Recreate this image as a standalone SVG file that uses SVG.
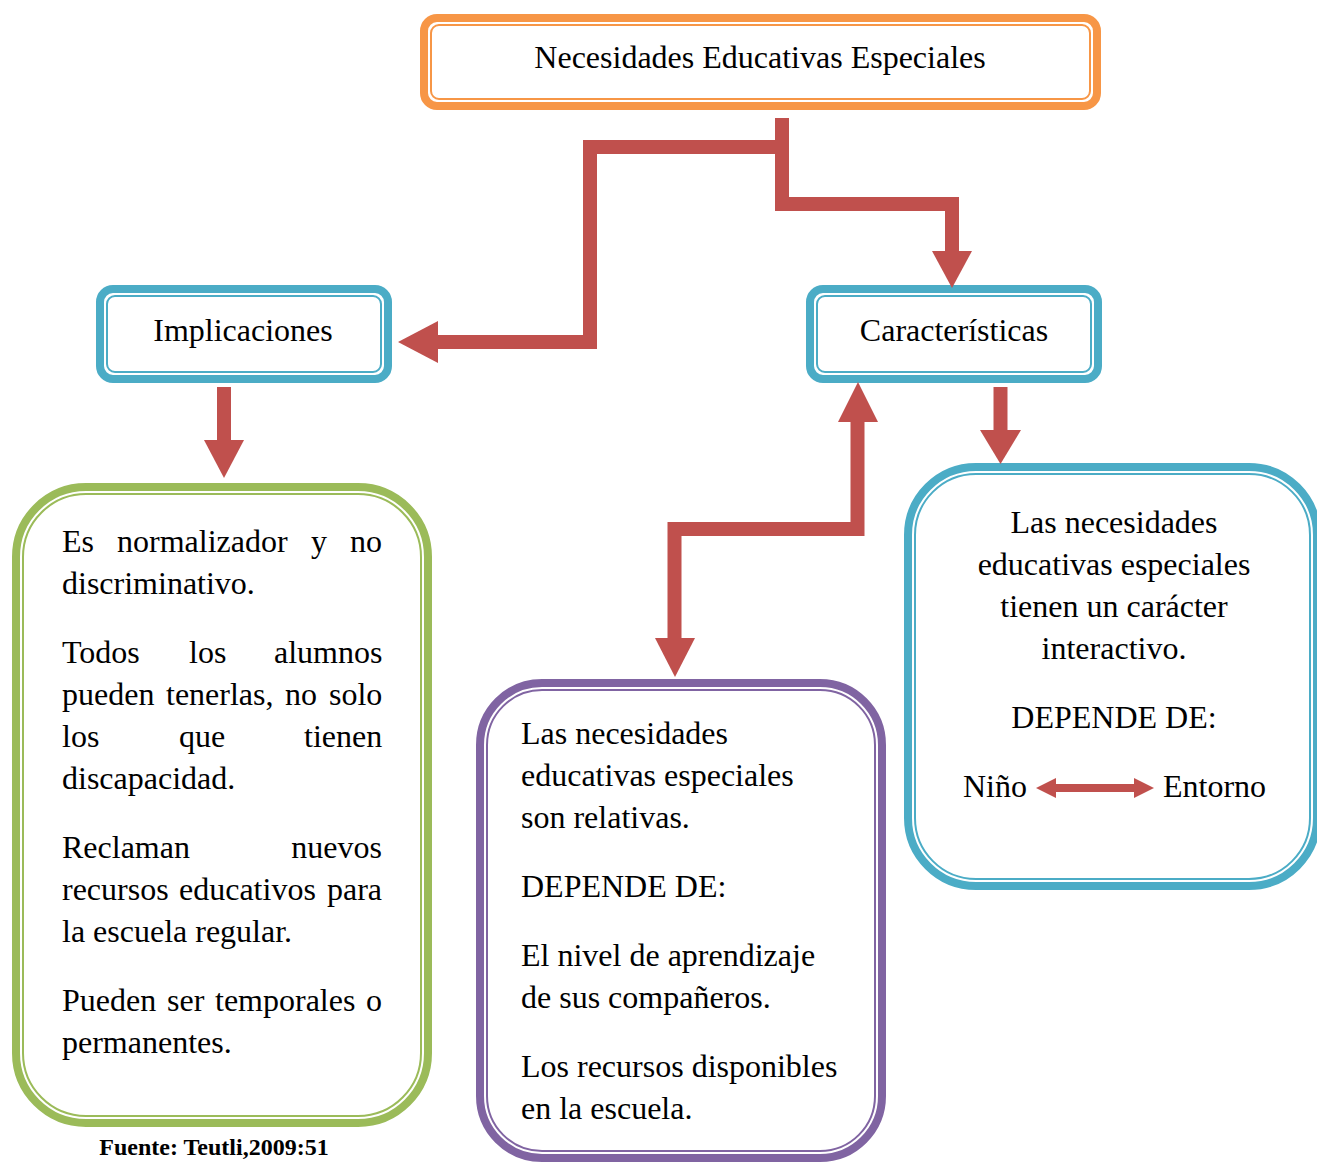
<svg xmlns="http://www.w3.org/2000/svg" width="1317" height="1162" viewBox="0 0 1317 1162">
<style>
.t{font-family:"Liberation Serif","Times New Roman",serif;font-size:32px;fill:#000}
.c{text-anchor:middle}
.e{text-anchor:end}
.f{font-family:"Liberation Serif","Times New Roman",serif;font-size:24px;font-weight:bold;fill:#000;text-anchor:middle}
.bo{fill:#fff;stroke-width:8}
.bi{fill:none;stroke-width:2}
.or{stroke:#F79646}
.bl{stroke:#4BACC6}
.gr{stroke:#9BBB59}
.pu{stroke:#8064A2}
.ln{fill:none;stroke:#C0504D;stroke-width:14;stroke-linejoin:miter}
.hd{fill:#C0504D}
</style>
<rect width="1317" height="1162" fill="#fff"/>

<g id="node-nee">
  <rect class="bo or" x="424" y="18" width="673" height="88" rx="13"/>
  <rect class="bi or" x="431" y="25" width="659" height="74" rx="8"/>
  <text class="t c" x="760" y="68">Necesidades Educativas Especiales</text>
</g>

<g id="node-implicaciones">
  <rect class="bo bl" x="100" y="289" width="288" height="90" rx="13"/>
  <rect class="bi bl" x="107" y="296" width="274" height="76" rx="8"/>
  <text class="t c" x="243" y="341">Implicaciones</text>
</g>

<g id="node-caracteristicas">
  <rect class="bo bl" x="810" y="289" width="288" height="90" rx="13"/>
  <rect class="bi bl" x="817" y="296" width="274" height="76" rx="8"/>
  <text class="t c" x="954" y="341">Características</text>
</g>

<g id="node-implicaciones-detalle">
  <rect class="bo gr" x="16" y="487" width="412" height="636" rx="70"/>
  <rect class="bi gr" x="23" y="494" width="398" height="622" rx="63"/>
  <text class="t" y="552"><tspan x="62">Es</tspan><tspan x="117">normalizador</tspan><tspan x="311">y</tspan><tspan x="350">no</tspan></text>
  <text class="t" x="62" y="594">discriminativo.</text>
  <text class="t" y="663"><tspan x="62">Todos</tspan><tspan x="189">los</tspan><tspan x="274">alumnos</tspan></text>
  <text class="t" y="705"><tspan x="62">pueden</tspan><tspan x="166">tenerlas,</tspan><tspan x="285">no</tspan><tspan x="329">solo</tspan></text>
  <text class="t" y="747"><tspan x="62">los</tspan><tspan x="179">que</tspan><tspan x="304">tienen</tspan></text>
  <text class="t" x="62" y="789">discapacidad.</text>
  <text class="t" y="858"><tspan x="62">Reclaman</tspan></text>
  <text class="t e" x="382" y="858">nuevos</text>
  <text class="t" y="900"><tspan x="62">recursos</tspan><tspan x="179">educativos</tspan><tspan x="327">para</tspan></text>
  <text class="t" x="62" y="942">la escuela regular.</text>
  <text class="t" y="1011"><tspan x="62">Pueden</tspan><tspan x="167">ser</tspan><tspan x="215">temporales</tspan><tspan x="366">o</tspan></text>
  <text class="t" x="62" y="1053">permanentes.</text>
</g>

<g id="node-relativas">
  <rect class="bo pu" x="480" y="683" width="402" height="475" rx="62"/>
  <rect class="bi pu" x="487" y="690" width="388" height="461" rx="55"/>
  <text class="t" x="521" y="744">Las necesidades</text>
  <text class="t" x="521" y="786">educativas especiales</text>
  <text class="t" x="521" y="828">son relativas.</text>
  <text class="t" x="521" y="897">DEPENDE DE:</text>
  <text class="t" x="521" y="966">El nivel de aprendizaje</text>
  <text class="t" x="521" y="1008">de sus compañeros.</text>
  <text class="t" x="521" y="1077">Los recursos disponibles</text>
  <text class="t" x="521" y="1119">en la escuela.</text>
</g>

<g id="node-interactivo">
  <rect class="bo bl" x="908" y="467" width="409" height="419" rx="68"/>
  <rect class="bi bl" x="915" y="474" width="395" height="405" rx="61"/>
  <text class="t c" x="1114" y="533">Las necesidades</text>
  <text class="t c" x="1114" y="575">educativas especiales</text>
  <text class="t c" x="1114" y="617">tienen un carácter</text>
  <text class="t c" x="1114" y="659">interactivo.</text>
  <text class="t c" x="1114" y="728">DEPENDE DE:</text>
  <text class="t" x="963" y="797">Niño</text>
  <text class="t" x="1163" y="797">Entorno</text>
</g>

<g id="fuente">
  <text class="f" x="214" y="1155">Fuente: Teutli,2009:51</text>
</g>

<g id="connectors">
  <path class="ln" d="M782,118 V147 H590 V342 H437"/>
  <polygon class="hd" points="438,321 398,342 438,363"/>
  <path class="ln" d="M782,118 V204 H952 V252"/>
  <polygon class="hd" points="932,251 972,251 952,288"/>
  <path class="ln" d="M224,387 V441"/>
  <polygon class="hd" points="204,440 244,440 224,478"/>
  <path class="ln" d="M1000.5,387 V431"/>
  <polygon class="hd" points="980,430 1021,430 1000.5,464"/>
  <path class="ln" d="M857.5,421 V529 H674.5 V640"/>
  <polygon class="hd" points="838,422 878,422 858,382"/>
  <polygon class="hd" points="655,638 695,638 675,677"/>
  <path d="M1055,788 H1135" stroke="#C0504D" stroke-width="8" fill="none"/>
  <polygon class="hd" points="1056,778 1036,788 1056,798"/>
  <polygon class="hd" points="1134,778 1154,788 1134,798"/>
</g>
</svg>
